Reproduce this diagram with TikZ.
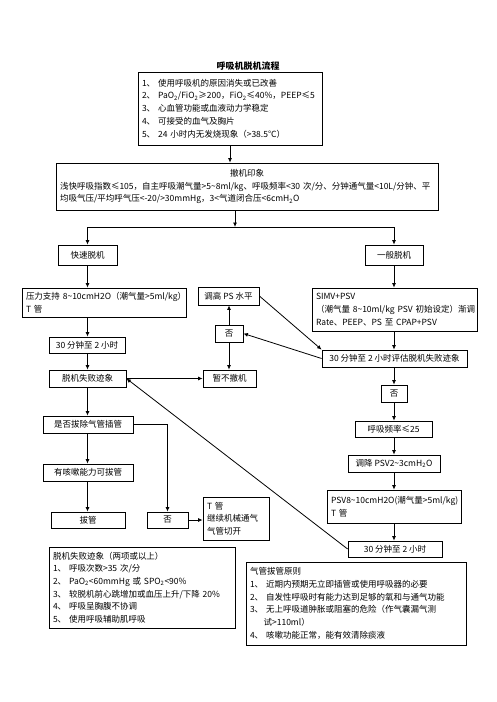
\documentclass[tikz,border=0pt]{standalone}
\usepackage{fontspec}
\setmainfont{Noto Sans CJK SC}
\usetikzlibrary{arrows.meta}
\newcommand{\tildech}{\textasciitilde}
\begin{document}
\begin{tikzpicture}[
	x=1pt, y=-1pt,
	box/.style={ draw, line width=0.8pt, inner xsep=4pt, inner ysep=2pt, font=\fontsize{8.5}{12.7}\selectfont },
	lbox/.style={ box, align=left },
	arr/.style={ line width=0.8pt, -{Latex[length=4.5pt,width=4pt]} }
]
\useasboundingbox (0,0) rectangle (496,702);

\node[font=\bfseries\fontsize{9}{11}\selectfont] at (248,66) (title) {呼吸机脱机流程};
\node[lbox, text width=176pt, minimum height=73pt] at (230,108.5) (crit) {1、~使用呼吸机的原因消失或已改善\\2、~PaO\textsubscript{2}/FiO\textsubscript{2}≥200，FiO\textsubscript{2}≤40\%，PEEP≤5\\3、~心血管功能或血液动力学稳定\\4、~可接受的血气及胸片\\5、~24~小时内无发烧现象（>38.5℃）};
\node[lbox, text width=374pt, minimum height=47pt] at (247,186.5) (imp) {\hfill 撤机印象\hfill\null\\浅快呼吸指数≤105，自主呼吸潮气量>5\tildech8ml/kg、呼吸频率<30~次/分、分钟通气量<10L/分钟、平\\均吸气压/平均呼气压<-20/>30mmHg，3<气道闭合压<6cmH\textsubscript{2}O};
\coordinate (split) at (235,227);

% left branch
\node[box, minimum width=59pt, minimum height=20pt] at (87.5,255) (fast) {快速脱机};
\node[lbox, text width=156pt, minimum height=29pt] at (104,302.5) (press) {压力支持~8\tildech10cmH2O（潮气量>5ml/kg）\\T~管};
\node[box, minimum width=76pt, minimum height=16pt] at (87,345) (wait1) {30~分钟至~2~小时};
\node[box, minimum width=77pt, minimum height=17pt] at (87.5,378.5) (fail) {脱机失败迹象};
\node[box, minimum width=90pt, minimum height=17pt] at (88,424.5) (ask) {是否拔除气管插管};
\node[box, minimum width=90pt, minimum height=17pt] at (88,472.5) (cough) {有咳嗽能力可拔管};
\node[box, minimum width=74pt, minimum height=16pt] at (88,520) (extub) {拔管};
\node[box, minimum width=41pt, minimum height=16pt] at (167.5,520) (no3) {否};
\node[lbox, text width=58pt, minimum height=43pt] at (236,518.5) (tube) {T~管\\继续机械通气\\气管切开};

% middle
\node[box, minimum width=61pt, minimum height=18pt] at (228.5,296) (raise) {调高~PS~水平};
\node[box, minimum width=28pt, minimum height=17pt] at (229,333.5) (no1) {否};
\node[box, minimum width=53pt, minimum height=17pt] at (229.5,378.5) (hold) {暂不撤机};

% right branch
\node[box, minimum width=58pt, minimum height=20pt] at (394,255) (general) {一般脱机};
\node[lbox, text width=157pt, minimum height=43pt] at (394.5,309.5) (simv) {SIMV+PSV\\（潮气量~8\tildech10ml/kg~PSV~初始设定）渐调\\Rate、PEEP、PS~至~CPAP+PSV};
\node[box, minimum width=145pt, minimum height=17pt] at (394.5,358.5) (eval) {30~分钟至~2~小时评估脱机失败迹象};
\node[box, minimum width=26pt, minimum height=17pt] at (394,393.5) (no2) {否};
\node[box, minimum width=77pt, minimum height=16pt] at (393.5,429) (rr) {呼吸频率≤25};
\node[box, minimum width=92pt, minimum height=17pt] at (394,463.5) (lower) {调降~PSV2\tildech3cmH\textsubscript{2}O};
\node[lbox, text width=126pt, minimum height=33pt] at (394,506.5) (psv8) {PSV8\tildech10cmH2O(潮气量>5ml/kg)\\T~管};
\node[box, minimum width=94pt, minimum height=16pt] at (395,549) (wait2) {30~分钟至~2~小时};

% notes
\node[lbox, text width=178pt, minimum height=81pt] at (142,587.5) (signs) {脱机失败迹象（两项或以上）\\1、~呼吸次数>35~次/分\\2、~PaO\textsubscript{2}<60mmHg~或~SPO\textsubscript{2}<90\%\\3、~较脱机前心跳增加或血压上升/下降~20\%\\4、~呼吸呈胸腹不协调\\5、~使用呼吸辅助肌呼吸};
\node[lbox, text width=212pt, minimum height=83pt] at (356,603.5) (rules) {气管拔管原则\\1、~近期内预期无立即插管或使用呼吸器的必要\\2、~自发性呼吸时有能力达到足够的氧和与通气功能\\3、~无上呼吸道肿胀或阻塞的危险（作气囊漏气测\\\hspace*{1.6em}试>110ml）\\4、~咳嗽功能正常，能有效清除痰液};

\draw[arr] (crit) -- (crit |- imp.north);
\draw[arr] (imp.south -| split) -- (split);
\draw (split -| fast) -- (split -| general);
\foreach \p in {fast,general} \draw[arr] (split -| \p) -- (\p);
\foreach \a/\b in {fast/press,press/wait1,wait1/fail,fail/ask,ask/cough,cough/extub} \draw[arr] (\a.south -| fast) -- (\b.north -| fast);
\foreach \a/\b in {general/simv,simv/eval,eval/no2,no2/rr,rr/lower,lower/psv8,psv8/wait2} \draw[arr] (\a.south -| general) -- (\b.north -| general);
\draw[arr] (ask.east) -| (no3);
\draw[arr] (no3) -- (no3 -| tube.west);
\draw[arr] (raise.east) -- (eval.north west);
\draw[arr] (eval.west) -- (no1.east);
\draw[arr] (no1) -- (no1 |- raise.south);
\draw[arr] (no1) -- (no1 |- hold.north);
\draw[arr] (fail) -- (hold);
\draw[arr] (wait2.west) -- (fail.east);

\end{tikzpicture}
\end{document}
